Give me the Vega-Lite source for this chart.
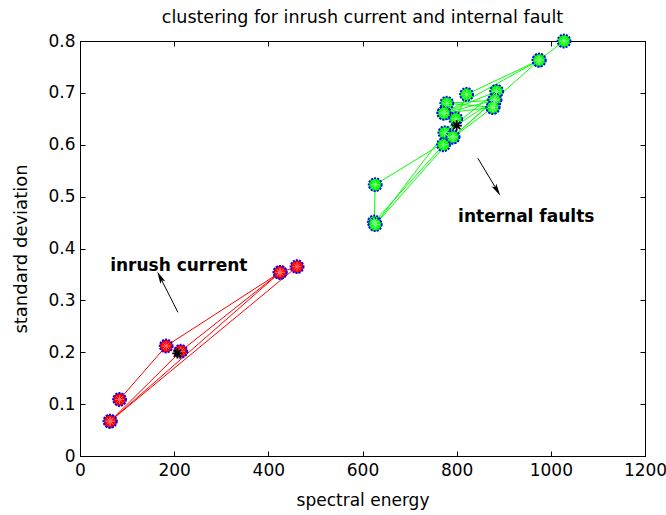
{
  "$schema": "https://vega.github.io/schema/vega-lite/v6.json",
  "autosize": {"type": "none"},
  "padding": {"left": 80, "top": 41, "right": 21, "bottom": 59},
  "width": 565,
  "height": 415,
  "background": "white",
  "title": {
    "text": "clustering for inrush current and internal fault",
    "font": "DejaVu Sans",
    "fontSize": 17.5,
    "fontWeight": "normal",
    "color": "black",
    "offset": 4
  },
  "config": {
    "view": {"stroke": "black", "strokeWidth": 1},
    "axis": {
      "labelFont": "DejaVu Sans",
      "titleFont": "DejaVu Sans",
      "labelFontSize": 17,
      "titleFontSize": 17,
      "titleFontWeight": "normal",
      "labelColor": "black",
      "titleColor": "black",
      "domainColor": "black",
      "tickColor": "black",
      "labelFlush": false,
      "grid": false
    }
  },
  "datasets": {
    "series": [
      {"group": "inrush", "seq": 1, "energy": 84, "sd": 0.109},
      {"group": "inrush", "seq": 2, "energy": 183, "sd": 0.212},
      {"group": "inrush", "seq": 3, "energy": 425, "sd": 0.354},
      {"group": "inrush", "seq": 4, "energy": 461, "sd": 0.365},
      {"group": "inrush", "seq": 5, "energy": 64, "sd": 0.067},
      {"group": "inrush", "seq": 6, "energy": 425, "sd": 0.354},
      {"group": "inrush", "seq": 7, "energy": 214, "sd": 0.202},
      {"group": "inrush", "seq": 8, "energy": 64, "sd": 0.067},
      {"group": "fault", "seq": 1, "energy": 1028, "sd": 0.8},
      {"group": "fault", "seq": 2, "energy": 975, "sd": 0.763},
      {"group": "fault", "seq": 3, "energy": 773, "sd": 0.661},
      {"group": "fault", "seq": 4, "energy": 885, "sd": 0.703},
      {"group": "fault", "seq": 5, "energy": 775, "sd": 0.623},
      {"group": "fault", "seq": 6, "energy": 881, "sd": 0.686},
      {"group": "fault", "seq": 7, "energy": 779, "sd": 0.68},
      {"group": "fault", "seq": 8, "energy": 877, "sd": 0.672},
      {"group": "fault", "seq": 9, "energy": 772, "sd": 0.6},
      {"group": "fault", "seq": 10, "energy": 625, "sd": 0.451},
      {"group": "fault", "seq": 11, "energy": 627, "sd": 0.523},
      {"group": "fault", "seq": 12, "energy": 792, "sd": 0.615},
      {"group": "fault", "seq": 13, "energy": 627, "sd": 0.446},
      {"group": "fault", "seq": 14, "energy": 798, "sd": 0.65},
      {"group": "fault", "seq": 15, "energy": 821, "sd": 0.697},
      {"group": "fault", "seq": 16, "energy": 975, "sd": 0.763},
      {"group": "fault", "seq": 17, "energy": 792, "sd": 0.615},
      {"group": "fault", "seq": 18, "energy": 881, "sd": 0.686},
      {"group": "fault", "seq": 19, "energy": 773, "sd": 0.661},
      {"group": "fault", "seq": 20, "energy": 877, "sd": 0.672}
    ],
    "centroids": [
      {"group": "inrush", "energy": 207, "sd": 0.198},
      {"group": "fault", "energy": 800, "sd": 0.637}
    ],
    "labels": [
      {"text": "inrush current", "energy": 64, "sd": 0.366},
      {"text": "internal faults", "energy": 803, "sd": 0.461}
    ],
    "arrowInrush": [
      {"energy": 208, "sd": 0.277, "energy2": 170, "sd2": 0.345}
    ],
    "arrowFault": [
      {"energy": 845, "sd": 0.574, "energy2": 886, "sd2": 0.512}
    ]
  },
  "layer": [
    {
      "data": {"name": "series"},
      "mark": {"type": "line", "strokeWidth": 1, "clip": true},
      "encoding": {
        "x": {
          "field": "energy", "type": "quantitative",
          "scale": {"domain": [0, 1200], "nice": false},
          "axis": {"values": [0, 200, 400, 600, 800, 1000, 1200], "format": "d", "tickSize": -5, "labelPadding": 11, "title": "spectral energy", "titlePadding": 14}
        },
        "y": {
          "field": "sd", "type": "quantitative",
          "scale": {"domain": [0, 0.8], "nice": false},
          "axis": {"values": [0, 0.1, 0.2, 0.3, 0.4, 0.5, 0.6, 0.7, 0.8], "format": "~g", "tickSize": -5, "labelPadding": 10, "title": "standard deviation", "titlePadding": 17, "titleFontSize": 18}
        },
        "color": {"field": "group", "type": "nominal", "scale": {"domain": ["inrush", "fault"], "range": ["#ff0000", "#00ff00"]}, "legend": null},
        "detail": {"field": "group"},
        "order": {"field": "seq", "type": "quantitative"}
      }
    },
    {
      "data": {"name": "series"},
      "mark": {"type": "point", "shape": "circle", "filled": false, "size": 170, "stroke": "#0000ff", "strokeWidth": 1.8, "strokeDash": [2, 1.2], "opacity": 1},
      "encoding": {
        "x": {"field": "energy", "type": "quantitative", "axis": {"orient": "top", "values": [0, 200, 400, 600, 800, 1000, 1200], "labels": false, "tickSize": -5, "title": null}},
        "y": {"field": "sd", "type": "quantitative", "axis": {"orient": "right", "values": [0, 0.1, 0.2, 0.3, 0.4, 0.5, 0.6, 0.7, 0.8], "labels": false, "tickSize": -5, "title": null}},
        "fill": {"field": "group", "type": "nominal", "scale": {"domain": ["inrush", "fault"], "range": ["#ff0000", "#00ff00"]}, "legend": null}
      }
    },
    {
      "data": {"name": "series"},
      "mark": {"type": "point", "shape": "M-1,0L1,0M0,-1L0,1M-0.7,-0.7L0.7,0.7M-0.7,0.7L0.7,-0.7", "filled": false, "size": 80, "strokeWidth": 1, "opacity": 1},
      "encoding": {
        "x": {"field": "energy", "type": "quantitative", "axis": null},
        "y": {"field": "sd", "type": "quantitative", "axis": null},
        "stroke": {"field": "group", "type": "nominal", "scale": {"domain": ["inrush", "fault"], "range": ["#ff7070", "#80ff80"]}, "legend": null}
      }
    },
    {
      "data": {"name": "centroids"},
      "mark": {"type": "point", "shape": "M-1,0L1,0M0,-1L0,1M-0.7,-0.7L0.7,0.7M-0.7,0.7L0.7,-0.7", "filled": false, "size": 110, "stroke": "black", "strokeWidth": 1.8, "opacity": 1},
      "encoding": {
        "x": {"field": "energy", "type": "quantitative", "axis": null},
        "y": {"field": "sd", "type": "quantitative", "axis": null}
      }
    },
    {
      "data": {"name": "labels"},
      "mark": {"type": "text", "align": "left", "baseline": "middle", "font": "DejaVu Sans", "fontSize": 17, "fontWeight": "bold", "color": "black"},
      "encoding": {
        "x": {"field": "energy", "type": "quantitative", "axis": null},
        "y": {"field": "sd", "type": "quantitative", "axis": null},
        "text": {"field": "text"}
      }
    },
    {
      "data": {"name": "arrowInrush"},
      "mark": {"type": "rule", "color": "black", "strokeWidth": 1},
      "encoding": {
        "x": {"field": "energy", "type": "quantitative", "axis": null},
        "y": {"field": "sd", "type": "quantitative", "axis": null},
        "x2": {"field": "energy2"},
        "y2": {"field": "sd2"}
      }
    },
    {
      "data": {"name": "arrowInrush"},
      "mark": {"type": "point", "shape": "M0,-1L0.45,1L0,0.6L-0.45,1Z", "filled": true, "color": "black", "size": 150, "angle": 333, "opacity": 1},
      "encoding": {
        "x": {"field": "energy2", "type": "quantitative", "axis": null},
        "y": {"field": "sd2", "type": "quantitative", "axis": null}
      }
    },
    {
      "data": {"name": "arrowFault"},
      "mark": {"type": "rule", "color": "black", "strokeWidth": 1},
      "encoding": {
        "x": {"field": "energy", "type": "quantitative", "axis": null},
        "y": {"field": "sd", "type": "quantitative", "axis": null},
        "x2": {"field": "energy2"},
        "y2": {"field": "sd2"}
      }
    },
    {
      "data": {"name": "arrowFault"},
      "mark": {"type": "point", "shape": "M0,-1L0.45,1L0,0.6L-0.45,1Z", "filled": true, "color": "black", "size": 150, "angle": 149, "opacity": 1},
      "encoding": {
        "x": {"field": "energy2", "type": "quantitative", "axis": null},
        "y": {"field": "sd2", "type": "quantitative", "axis": null}
      }
    }
  ],
  "resolve": {"axis": {"x": "independent", "y": "independent"}}
}
